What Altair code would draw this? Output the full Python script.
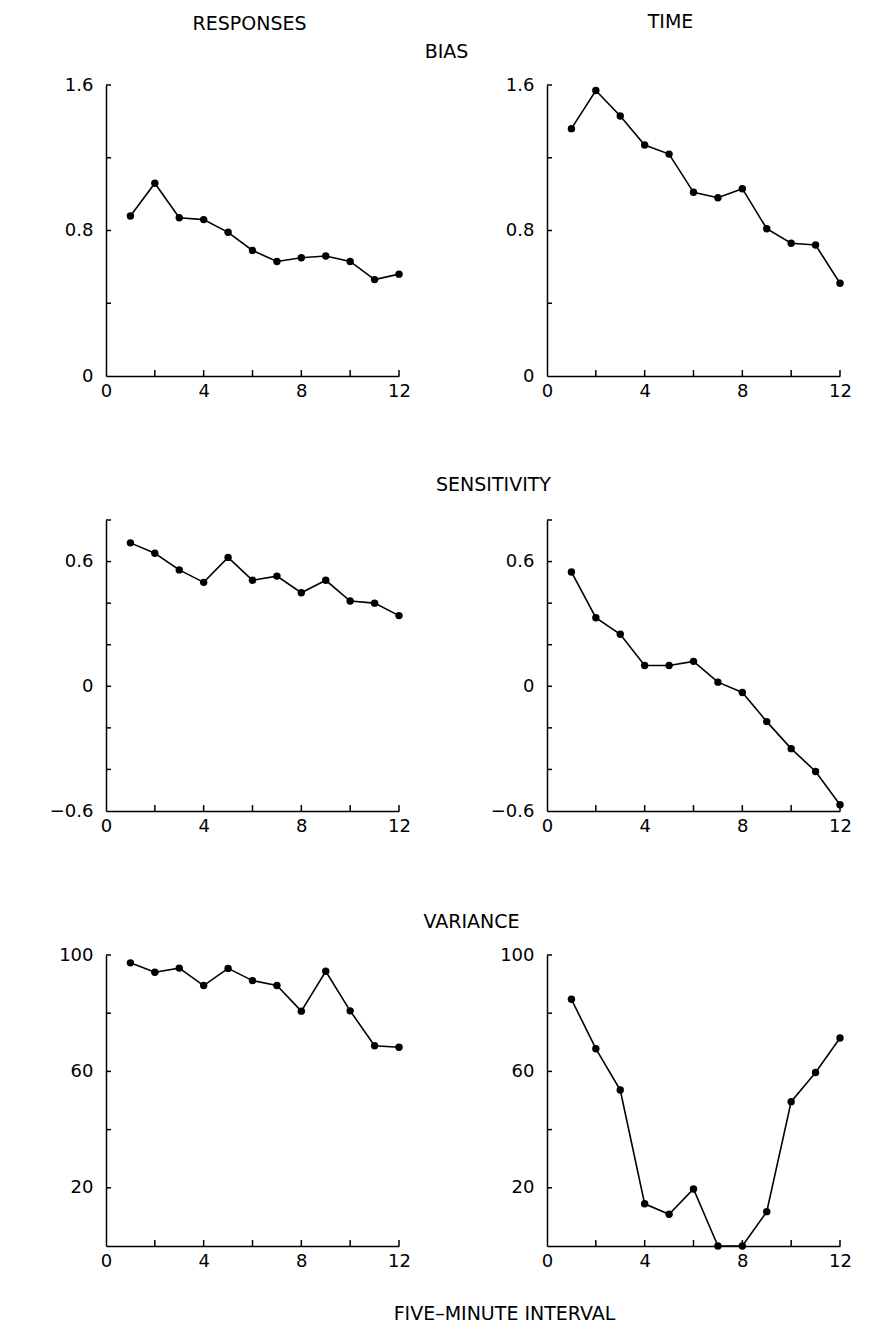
import altair as alt
import pandas as pd

# ---- data ----
intervals = list(range(1, 13))
bias_responses = [0.88, 1.06, 0.87, 0.86, 0.79, 0.69, 0.63, 0.65, 0.66, 0.63, 0.53, 0.56]
bias_time = [1.36, 1.57, 1.43, 1.27, 1.22, 1.01, 0.98, 1.03, 0.81, 0.73, 0.72, 0.51]
sens_responses = [0.69, 0.64, 0.56, 0.50, 0.62, 0.51, 0.53, 0.45, 0.51, 0.41, 0.40, 0.34]
sens_time = [0.55, 0.33, 0.25, 0.10, 0.10, 0.12, 0.02, -0.03, -0.17, -0.30, -0.41, -0.57]
var_responses = [97.3, 94.1, 95.5, 89.5, 95.4, 91.2, 89.5, 80.7, 94.4, 80.8, 68.8, 68.3]
var_time = [84.8, 67.8, 53.6, 14.5, 10.9, 19.6, 0.0, 0.0, 11.8, 49.6, 59.6, 71.5]

x_domain = [0, 12]
x_ticks = [2, 4, 6, 8, 10, 12]
x_labels = [0, 4, 8, 12]

bias_domain = [0, 1.6]
bias_ticks = [0.4, 0.8, 1.2, 1.6]
bias_labels = [0, 0.8, 1.6]

sens_domain = [-0.6, 0.8]
sens_ticks = [-0.4, -0.2, 0, 0.2, 0.4, 0.6, 0.8]
sens_labels = [-0.6, 0, 0.6]

var_domain = [0, 100]
var_ticks = [20, 40, 60, 80, 100]
var_labels = [20, 60, 100]

W, H = 293, 291
FONT = "DejaVu Sans"


def panel(values, ydomain, yticks, ylabels, yformat, title=None, title_dx=0, title_offset=10,
          ytitle=None, ytitle_x=0, ytitle_y=0, xtitle=None, xtitle_x=0, xtitle_y=0):
    df = pd.DataFrame({"interval": intervals, "value": values})
    xscale = alt.Scale(domain=x_domain, nice=False, zero=False)
    yscale = alt.Scale(domain=ydomain, nice=False, zero=False)

    xaxis_kw = dict(values=x_labels, format="d", labelPadding=6, labelAlign="center",
                    labelBaseline="top")
    if xtitle:
        xaxis_kw.update(title=xtitle, titleX=xtitle_x, titleY=xtitle_y, titleAlign="center",
                        titleBaseline="middle", titleAngle=0)
    else:
        xaxis_kw.update(title=None)

    yaxis_kw = dict(values=ylabels, format=yformat, labelPadding=13)
    if ytitle:
        yaxis_kw.update(title=ytitle, titleX=ytitle_x, titleY=ytitle_y, titleAlign="center",
                        titleBaseline="middle", titleAngle=0)
    else:
        yaxis_kw.update(title=None)

    xaxis = alt.Axis(**xaxis_kw)
    yaxis = alt.Axis(**yaxis_kw)

    base = alt.Chart(df).encode(
        x=alt.X("interval:Q", scale=xscale, axis=xaxis),
        y=alt.Y("value:Q", scale=yscale, axis=yaxis),
    )
    line = base.mark_line(color="black", strokeWidth=1.6)
    pts = base.mark_circle(color="black", size=55, opacity=1)

    ytk = alt.Chart(pd.DataFrame({"t": yticks})).mark_rule(color="black", strokeWidth=1.5).encode(
        y=alt.Y("t:Q", scale=yscale, axis=yaxis),
        x=alt.value(0), x2=alt.value(5),
    )
    xtk = alt.Chart(pd.DataFrame({"t": x_ticks})).mark_rule(color="black", strokeWidth=1.5).encode(
        x=alt.X("t:Q", scale=xscale, axis=xaxis),
        y=alt.value(H), y2=alt.value(H - 6),
    )
    ch = alt.layer(line, pts, ytk, xtk).properties(width=W, height=H)
    if title:
        ch = ch.properties(title=alt.TitleParams(text=title, dx=title_dx, offset=title_offset,
                                                 anchor="middle"))
    return ch


p1 = panel(bias_responses, bias_domain, bias_ticks, bias_labels, ".1~f",
           title="RESPONSES", title_dx=-3, title_offset=8,
           ytitle="BIAS", ytitle_x=340, ytitle_y=-34)
p2 = panel(bias_time, bias_domain, bias_ticks, bias_labels, ".1~f",
           title="TIME", title_dx=-23, title_offset=44)
p3 = panel(sens_responses, sens_domain, sens_ticks, sens_labels, ".1~f",
           ytitle="SENSITIVITY", ytitle_x=387, ytitle_y=-36)
p4 = panel(sens_time, sens_domain, sens_ticks, sens_labels, ".1~f")
p5 = panel(var_responses, var_domain, var_ticks, var_labels, "d",
           ytitle="VARIANCE", ytitle_x=365, ytitle_y=-34,
           xtitle="FIVE\u2013MINUTE INTERVAL", xtitle_x=398, xtitle_y=67)
p6 = panel(var_time, var_domain, var_ticks, var_labels, "d")

chart = alt.concat(p1, p2, p3, p4, p5, p6, columns=2).properties(
    spacing={"row": 144, "column": 148},
    bounds="flush",
    padding={"left": 49, "top": 13, "right": 10, "bottom": 10},
).configure_view(
    stroke=None
).configure_axis(
    grid=False, ticks=False, tickSize=0,
    domainColor="black", domainWidth=1.5,
    labelFont=FONT, labelFontSize=18, labelColor="black",
    titleFont=FONT, titleFontSize=19, titleFontWeight="normal", titleColor="black",
).configure_title(
    font=FONT, fontSize=19, fontWeight="normal", color="black"
)

chart.save("out.html", embed_options={"renderer": "svg", "actions": False})
